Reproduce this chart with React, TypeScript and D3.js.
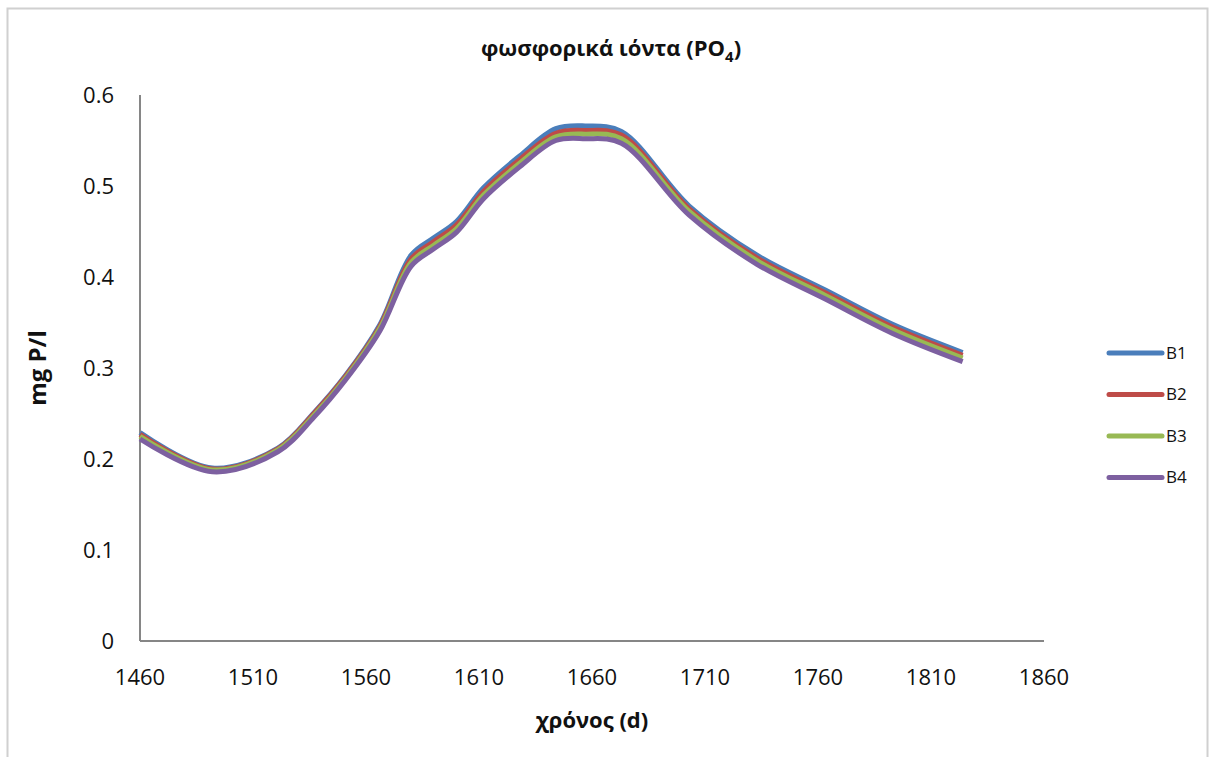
import React from 'react';
import * as d3 from 'd3';

// days sampled (x values)
const days = [1460, 1492, 1521, 1537, 1551, 1566, 1580, 1590, 1600, 1612, 1628, 1644, 1657, 1673, 1703, 1733, 1763, 1793, 1824];

// mg P/l per series
const b1 = [0.229, 0.190, 0.212, 0.251, 0.292, 0.347, 0.424, 0.443, 0.461, 0.498, 0.533, 0.563, 0.566, 0.560, 0.478, 0.424, 0.386, 0.348, 0.317];
const b2 = [0.227, 0.189, 0.211, 0.250, 0.291, 0.345, 0.420, 0.439, 0.457, 0.494, 0.529, 0.558, 0.561, 0.556, 0.475, 0.421, 0.383, 0.345, 0.314];
const b3 = [0.225, 0.188, 0.210, 0.248, 0.289, 0.343, 0.416, 0.435, 0.453, 0.490, 0.525, 0.554, 0.557, 0.552, 0.472, 0.418, 0.380, 0.342, 0.311];
const b4 = [0.222, 0.186, 0.208, 0.246, 0.287, 0.340, 0.412, 0.431, 0.449, 0.486, 0.521, 0.550, 0.552, 0.547, 0.468, 0.414, 0.376, 0.338, 0.307];

const seriesNames = ['B1', 'B2', 'B3', 'B4'];
const seriesValues = [b1, b2, b3, b4];
const colors = ['#4a7ebb', '#be4b48', '#98b954', '#7d60a0'];

const xTicks = [1460, 1510, 1560, 1610, 1660, 1710, 1760, 1810, 1860];
const yTicks = [0, 0.1, 0.2, 0.3, 0.4, 0.5, 0.6];

const W = 1213;
const H = 757;
const FONT = '"Open Sans", "Noto Sans", sans-serif';

const App = () => {
  const x = d3.scaleLinear().domain([1460, 1860]).range([140, 1044]);
  const y = d3.scaleLinear().domain([0, 0.6]).range([641, 95]);

  const line = d3.line<number>()
    .x((_, i) => x(days[i]))
    .y(d => y(d))
    .curve(d3.curveCatmullRom.alpha(0.5));

  return (
    <svg width={W} height={H} style={{ position: 'absolute', left: 0, top: 0, background: '#fff' }} fontFamily={FONT}>
      {/* outer chart border */}
      <rect x={7.5} y={8.5} width={1200} height={780} fill="none" stroke="#d0d0d0" strokeWidth={2} />

      <text x={611} y={56} textAnchor="middle" fontSize={22} fontWeight="bold" fill="#111">
        φωσφορικά ιόντα (PO<tspan fontSize={15} dy={6}>4</tspan><tspan dy={-6}>)</tspan>
      </text>

      {/* axes */}
      <line x1={x(1460)} x2={x(1460)} y1={y(0.6)} y2={y(0)} stroke="#868686" strokeWidth={2} />
      <line x1={x(1460)} x2={x(1860)} y1={y(0)} y2={y(0)} stroke="#868686" strokeWidth={2} />

      {yTicks.map(t => (
        <text key={t} x={114} y={y(t)} dy="0.35em" textAnchor="end" fontSize={22} fill="#111">{t}</text>
      ))}
      {xTicks.map(t => (
        <text key={t} x={x(t)} y={677} dy="0.35em" textAnchor="middle" fontSize={22} fill="#111">{t}</text>
      ))}

      <text transform={`translate(46,368) rotate(-90)`} textAnchor="middle" fontSize={24} fontWeight="bold" fill="#111">mg P/l</text>
      <text x={592} y={728} textAnchor="middle" fontSize={22} fontWeight="bold" fill="#111">χρόνος (d)</text>

      {seriesValues.map((vals, i) => (
        <path key={seriesNames[i]} d={line(vals) || ''} fill="none" stroke={colors[i]} strokeWidth={5} strokeLinejoin="round" />
      ))}

      {/* legend */}
      {seriesNames.map((name, i) => {
        const ly = 353 + i * 41.5;
        return (
          <g key={name}>
            <line x1={1109} x2={1162} y1={ly} y2={ly} stroke={colors[i]} strokeWidth={5} strokeLinecap="round" />
            <text x={1166} y={ly} dy="0.35em" fontSize={17} fill="#111">{name}</text>
          </g>
        );
      })}
    </svg>
  );
};

export default App;
